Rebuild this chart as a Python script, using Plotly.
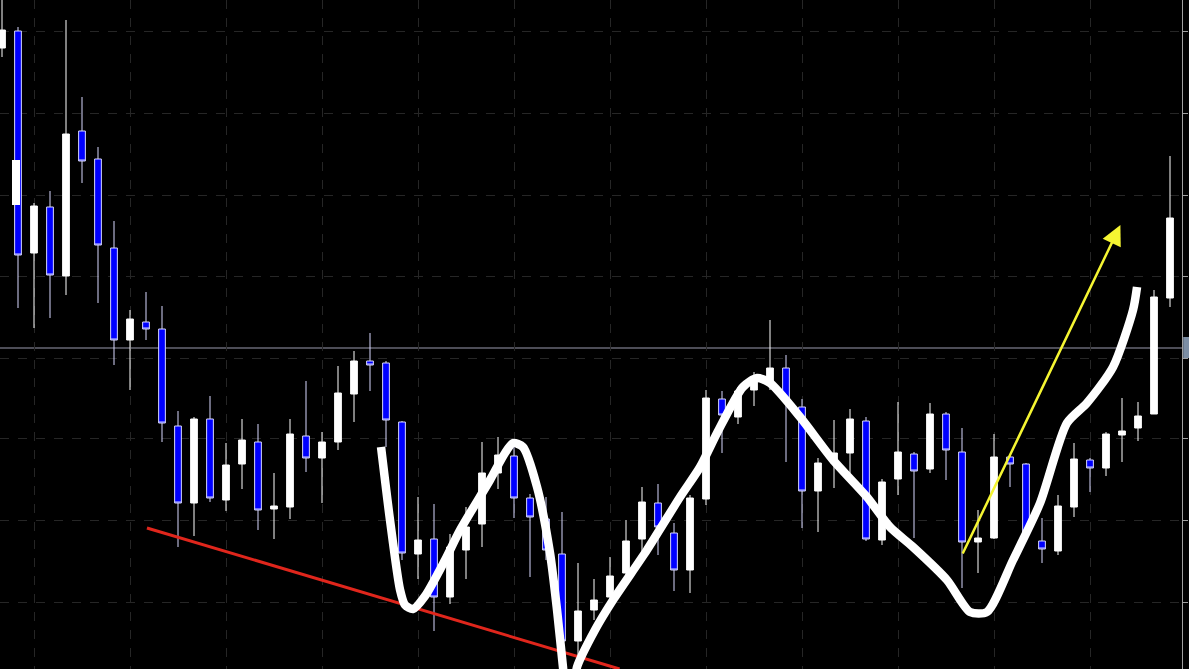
import plotly.graph_objects as go

# candle index 0..73, prices in chart units (bottom of window = 0)
opens = [621, 638, 416, 462, 393, 538, 510, 421, 329, 347,
         340, 243, 166, 250, 169, 205, 227, 160, 162, 233,
         211, 227, 275, 308, 306, 247, 115, 130, 72, 119,
         145, 196, 213, 171, 150, 115, 28, 59, 72, 96,
         130, 166, 136, 99, 170, 270, 252, 279, 287, 301,
         262, 178, 206, 216, 248, 129, 190, 215, 200, 255,
         217, 127, 131, 212, 205, 128, 118, 162, 209, 201,
         234, 241, 255, 371]
highs = [679, 642, 466, 478, 649, 572, 522, 448, 359, 377,
         363, 258, 252, 273, 226, 250, 245, 196, 250, 288,
         237, 303, 318, 336, 308, 248, 172, 165, 135, 162,
         227, 232, 228, 175, 172, 157, 106, 90, 112, 149,
         182, 185, 146, 174, 279, 278, 282, 297, 349, 314,
         270, 211, 249, 260, 252, 190, 267, 217, 266, 257,
         241, 159, 235, 214, 206, 151, 174, 226, 211, 237,
         271, 267, 379, 513]
lows = [612, 361, 341, 351, 374, 486, 366, 304, 279, 329,
        227, 122, 133, 167, 158, 180, 139, 130, 150, 197,
        166, 219, 247, 278, 222, 109, 90, 38, 65, 90,
        122, 180, 151, 92, 109, -6, -6, 49, 60, 84,
        114, 114, 78, 76, 164, 216, 245, 263, 279, 207,
        141, 137, 181, 196, 128, 124, 174, 131, 196, 189,
        81, 96, 130, 182, 129, 106, 114, 152, 177, 193,
        207, 228, 255, 362]
closes = [639, 414, 463, 394, 535, 508, 424, 329, 350, 340,
          246, 166, 250, 171, 204, 229, 159, 163, 235, 211,
          227, 276, 308, 304, 249, 116, 129, 72, 122, 142,
          196, 214, 171, 152, 119, 28, 58, 69, 93, 128,
          167, 142, 99, 171, 271, 254, 278, 292, 301, 270,
          178, 206, 216, 250, 130, 187, 217, 198, 255, 219,
          127, 131, 212, 205, 136, 120, 163, 210, 201, 235,
          238, 253, 372, 451]
idx = list(range(len(opens)))

# hand-drawn white curve
curve_x = [23.69, 24.25, 24.88, 25.19, 25.69, 26.44, 27.69, 28.63, 30.5, 31.44,
           31.94, 32.56, 33.44, 34.25, 34.69, 35.06, 35.31, 35.63, 35.94, 37.06,
           38.19, 40.31, 42.38, 43.63, 44.69, 46.31, 47.19, 48.0, 49.88, 51.94,
           54.06, 55.5, 56.94, 59.06, 60.5, 61.56, 63.19, 64.88, 66.56, 67.81,
           69.44, 70.69, 70.94]
curve_y = [222, 149, 79, 64, 60, 73, 109, 139, 189, 216,
           226, 222, 182, 116, 59, 2, -31, -31, 2, 39,
           69, 119, 172, 202, 236, 282, 291, 286, 252, 209,
           172, 142, 122, 89, 57, 57, 109, 166, 246, 266,
           302, 359, 382]

blob_x = [0.875, 0.875]
blob_y = [509, 464]

support_x = [9.06, 38.6]
support_y = [141, 0]

arrow_from = (60.0, 114)
arrow_to = (69.9, 444)

price_line = 321
ygrid = [67, 149, 231, 311, 393, 474, 556, 638]

fig = go.Figure()
fig.add_trace(go.Candlestick(
    x=idx, open=opens, high=highs, low=lows, close=closes,
    increasing=dict(line=dict(color="#ffffff", width=1), fillcolor="#ffffff"),
    decreasing=dict(line=dict(color="#d8d8ff", width=1), fillcolor="#0000ff"),
    whiskerwidth=0, showlegend=False, hoverinfo="skip",
))
fig.add_trace(go.Scatter(x=support_x, y=support_y, mode="lines",
                         line=dict(color="#e0261c", width=3), showlegend=False))
fig.add_trace(go.Scatter(x=curve_x, y=curve_y, mode="lines",
                         line=dict(color="#ffffff", width=8.5, shape="spline", smoothing=0.7),
                         showlegend=False))
fig.add_trace(go.Scatter(x=blob_x, y=blob_y, mode="lines",
                         line=dict(color="#ffffff", width=8), showlegend=False))

fig.add_shape(type="line", xref="paper", x0=0, x1=1, yref="y", y0=price_line, y1=price_line,
              line=dict(color="#9a9aae", width=1), layer="below")
fig.add_shape(type="rect", xref="paper", x0=1.001, x1=1.02, yref="y",
              y0=price_line - 10, y1=price_line + 11,
              fillcolor="#7c8ea4", line=dict(width=0))

fig.add_annotation(x=arrow_to[0], y=arrow_to[1], ax=arrow_from[0], ay=arrow_from[1],
                   xref="x", yref="y", axref="x", ayref="y", text="",
                   showarrow=True, arrowhead=2, arrowsize=1.6, arrowwidth=2.5,
                   arrowcolor="#f5f532")

fig.update_layout(
    width=1189, height=669,
    paper_bgcolor="#000000", plot_bgcolor="#000000",
    margin=dict(l=0, r=7, t=0, b=0),
    boxgap=0.4,
    showlegend=False,
    xaxis=dict(range=[-0.125, 73.75], rangeslider=dict(visible=False),
               showticklabels=False, zeroline=False,
               showgrid=True, gridcolor="#262626", griddash="dash", gridwidth=1,
               tick0=2, dtick=6, ticks=""),
    yaxis=dict(range=[0, 669], side="right", showticklabels=False, zeroline=False,
               showgrid=True, gridcolor="#262626", griddash="dash", gridwidth=1,
               tickmode="array", tickvals=ygrid,
               showline=True, linecolor="#a0a0a0", linewidth=1,
               ticks="outside", ticklen=5, tickcolor="#a0a0a0"),
)

# the page body has a default 8px margin; drop it so the chart fills the window
fig.write_html("out.html", config={"displayModeBar": False},
               post_script="document.body.style.margin='0';")
